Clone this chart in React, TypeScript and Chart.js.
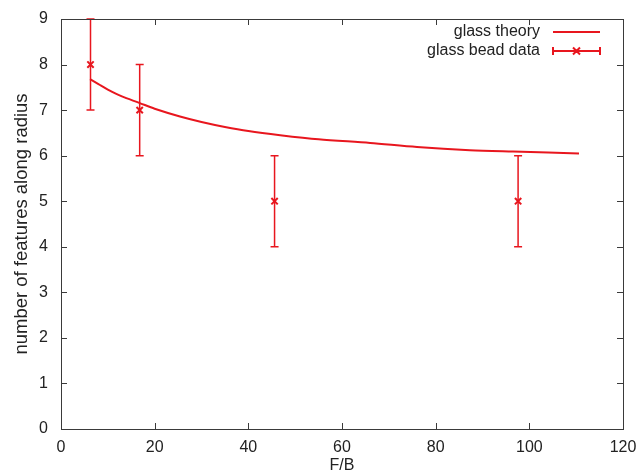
import React, { useEffect, useRef } from "react";
import { Chart, registerables } from "chart.js";

Chart.register(...registerables);

const theoryX = [6.2, 8, 10, 13, 16.7, 20, 25.4, 30, 35, 40, 46.8, 55, 66, 76, 87.3, 96.5, 104, 110.6];
const theoryY = [7.68, 7.57, 7.45, 7.3, 7.16, 7.03, 6.86, 6.74, 6.63, 6.54, 6.45, 6.36, 6.28, 6.19, 6.12, 6.09, 6.07, 6.05];

const beadX = [6.3, 16.8, 45.6, 97.6];
const beadY = [8, 7, 5, 5];
const beadErr = [1, 1, 1, 1];

const xTicks = [0, 20, 40, 60, 80, 100, 120];
const yTicks = [0, 1, 2, 3, 4, 5, 6, 7, 8, 9];

const RED = "rgb(232,22,30)";
const AXIS = "#3a3a3a";
const FONT = "'Liberation Sans', Arial, sans-serif";

const framePlugin = {
  id: "frame",
  afterDatasetsDraw(chart: any) {
    const { ctx, chartArea: a, scales } = chart;
    const xs = scales.x;
    const ys = scales.y;
    ctx.save();
    // error bars
    ctx.strokeStyle = RED;
    ctx.lineWidth = 1.5;
    beadX.forEach((xv, i) => {
      const px = xs.getPixelForValue(xv);
      const top = ys.getPixelForValue(beadY[i] + beadErr[i]);
      const bot = ys.getPixelForValue(beadY[i] - beadErr[i]);
      ctx.beginPath();
      ctx.moveTo(px, top);
      ctx.lineTo(px, bot);
      ctx.moveTo(px - 4, top);
      ctx.lineTo(px + 4, top);
      ctx.moveTo(px - 4, bot);
      ctx.lineTo(px + 4, bot);
      ctx.stroke();
    });
    // frame
    ctx.strokeStyle = AXIS;
    ctx.lineWidth = 1;
    ctx.strokeRect(Math.round(a.left) + 0.5, Math.round(a.top) + 0.5, Math.round(a.right - a.left), Math.round(a.bottom - a.top));
    const tl = 6;
    ctx.beginPath();
    xTicks.forEach((v) => {
      const px = Math.round(xs.getPixelForValue(v)) + 0.5;
      ctx.moveTo(px, a.bottom);
      ctx.lineTo(px, a.bottom - tl);
      ctx.moveTo(px, a.top);
      ctx.lineTo(px, a.top + tl);
    });
    yTicks.forEach((v) => {
      const py = Math.round(ys.getPixelForValue(v)) + 0.5;
      ctx.moveTo(a.left, py);
      ctx.lineTo(a.left + tl, py);
      ctx.moveTo(a.right, py);
      ctx.lineTo(a.right - tl, py);
    });
    ctx.stroke();
    // legend
    ctx.font = `16px ${FONT}`;
    ctx.fillStyle = "#222";
    ctx.textAlign = "right";
    ctx.textBaseline = "middle";
    const tx = 540;
    const y1 = 32;
    const y2 = 51;
    ctx.fillText("glass theory", tx, y1);
    ctx.fillText("glass bead data", tx, y2);
    const l0 = 553;
    const l1 = 600;
    ctx.strokeStyle = RED;
    ctx.lineWidth = 2;
    ctx.beginPath();
    ctx.moveTo(l0, y1);
    ctx.lineTo(l1, y1);
    ctx.stroke();
    ctx.lineWidth = 1.5;
    ctx.beginPath();
    ctx.moveTo(l0, y2);
    ctx.lineTo(l1, y2);
    ctx.moveTo(l0, y2 - 4);
    ctx.lineTo(l0, y2 + 4);
    ctx.moveTo(l1, y2 - 4);
    ctx.lineTo(l1, y2 + 4);
    const mx = (l0 + l1) / 2;
    ctx.lineWidth = 2;
    ctx.moveTo(mx - 3.5, y2 - 3.5);
    ctx.lineTo(mx + 3.5, y2 + 3.5);
    ctx.moveTo(mx - 3.5, y2 + 3.5);
    ctx.lineTo(mx + 3.5, y2 - 3.5);
    ctx.stroke();
    ctx.restore();
  },
};

export default function App() {
  const ref = useRef<HTMLCanvasElement>(null);
  useEffect(() => {
    if (!ref.current) return;
    const chart = new Chart(ref.current, {
      type: "scatter",
      data: {
        datasets: [
          {
            label: "glass theory",
            data: theoryX.map((x, i) => ({ x, y: theoryY[i] })),
            showLine: true,
            borderColor: RED,
            borderWidth: 2,
            pointRadius: 0,
            tension: 0.3,
          },
          {
            label: "glass bead data",
            data: beadX.map((x, i) => ({ x, y: beadY[i] })),
            showLine: false,
            pointStyle: "crossRot",
            pointRadius: 4.5,
            borderColor: RED,
            backgroundColor: RED,
            pointBorderWidth: 2,
          },
        ],
      },
      options: {
        animation: false,
        responsive: false,
        maintainAspectRatio: false,
        layout: { padding: { left: 0, top: 19, right: 21, bottom: 0 } },
        plugins: { legend: { display: false }, tooltip: { enabled: false } },
        scales: {
          x: {
            type: "linear",
            min: 0,
            max: 120,
            afterBuildTicks: (s: any) => {
              s.ticks = xTicks.map((v) => ({ value: v }));
            },
            afterFit: (s: any) => {
              s.height = 46;
            },
            grid: { display: false },
            border: { display: false },
            ticks: { color: "#222", padding: 1, font: { size: 16, family: FONT }, maxRotation: 0 },
            title: { display: true, text: "F/B", color: "#222", padding: { top: 0, bottom: 0 }, font: { size: 16, family: FONT } },
          },
          y: {
            type: "linear",
            min: 0,
            max: 9,
            afterBuildTicks: (s: any) => {
              s.ticks = yTicks.map((v) => ({ value: v }));
            },
            afterFit: (s: any) => {
              s.width = 61;
            },
            grid: { display: false },
            border: { display: false },
            ticks: { color: "#222", padding: 5, font: { size: 16, family: FONT } },
            title: {
              display: true,
              text: "number of features along radius",
              color: "#222",
              padding: { top: 11, bottom: 0 },
              font: { size: 18.5, family: FONT },
            },
          },
        },
      },
      plugins: [framePlugin],
    });
    return () => chart.destroy();
  }, []);
  return (
    <div style={{ position: "absolute", left: 0, top: 0, width: 644, height: 475, background: "#fff" }}>
      <canvas ref={ref} width={644} height={475} style={{ display: "block" }} />
    </div>
  );
}
